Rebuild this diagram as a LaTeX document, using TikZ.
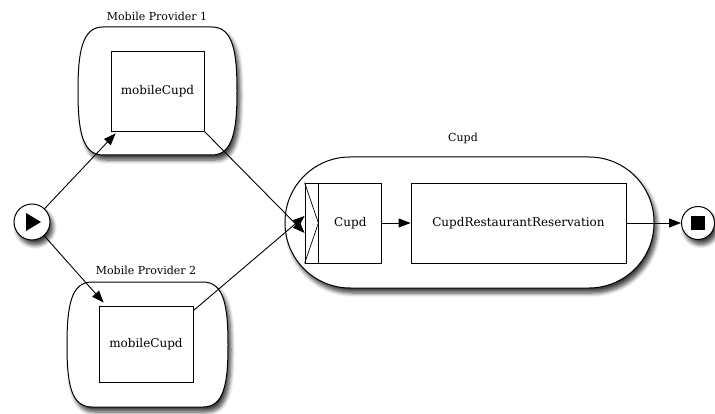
\documentclass[tikz,border=0pt]{standalone}
\usepackage{fontspec}
\setmainfont{DejaVu Serif}
\usetikzlibrary{arrows.meta,shadows.blur,calc}
\begin{document}
\begin{tikzpicture}[x=1pt,y=-1pt,
  shad/.style={blur shadow={shadow blur steps=6,shadow xshift=3pt,shadow yshift=-5pt,shadow opacity=75,shadow blur radius=4pt}},
  pool/.style={draw,line width=1pt,fill=white,shad},
  task/.style={draw,line width=0.8pt,fill=white,inner sep=0pt,font=\fontsize{12}{14}\selectfont},
  lbl/.style={font=\fontsize{11}{13}\selectfont,inner sep=0pt},
  flow/.style={line width=0.9pt,-{Triangle[length=12pt,width=9pt,fill=black]}},
  ev/.style={circle,draw,line width=1pt,fill=white,shad,inner sep=0pt}]
\useasboundingbox (0,0) rectangle (715,414);
% pools
\path[pool] (103,27) -- (212,27) .. controls (233,27) and (237,52) .. (237,91) .. controls (237,130) and (233,155) .. (212,155) -- (103,155) .. controls (82,155) and (78,130) .. (78,91) .. controls (78,52) and (82,27) .. (103,27) -- cycle;
\node[lbl] (mp1lbl) at (157,16) {Mobile Provider 1};
\path[pool] (92,282) -- (203,282) .. controls (224,282) and (228,306) .. (228,345) .. controls (228,384) and (224,407) .. (203,407) -- (92,407) .. controls (71,407) and (67,384) .. (67,345) .. controls (67,306) and (71,282) .. (92,282) -- cycle;
\node[lbl] (mp2lbl) at (146,270) {Mobile Provider 2};
\path[pool,rounded corners=65pt] (285,157) rectangle (654,288);
\node[lbl] (cupdlbl) at (463,138) {Cupd};
% tasks
\node[task,minimum width=93pt,minimum height=80pt] (mp1box) at (157.5,91) {mobileCupd};
\node[task,minimum width=94pt,minimum height=76pt] (mp2box) at (146,344) {mobileCupd};
\node[draw,line width=0.8pt,fill=white,minimum width=13pt,minimum height=80pt,inner sep=0pt] (marker) at (311.5,223) {};
\draw[line width=0.7pt] (marker.north west) -- (marker.east) -- (marker.south west);
\node[task,minimum width=63pt,minimum height=80pt,anchor=west] (cupd) at (marker.east) {Cupd};
\node[task,minimum width=215pt,minimum height=80pt] (crr) at (518.5,223) {CupdRestaurantReservation};
% events
\node[ev,minimum size=36pt] (start) at (32,222) {};
\fill (start.center) ++(-6,-9) -- ++(0,18) -- ++(15,-9) -- cycle;
\node[ev,minimum size=33pt] (end) at (698,223) {};
\fill ($(end.center)+(-7,-7)$) rectangle ($(end.center)+(7,7)$);
% flows
\draw[flow] (start) -- ([shift={(5,2)}]mp1box.south west);
\draw[flow] (start) -- ([shift={(5,-3)}]mp2box.north west);
\draw[flow] (mp1box.south east) -- ([yshift=-10pt]marker.west);
\draw[flow] ([yshift=-5pt]mp2box.north east) -- ([yshift=7pt]marker.west);
\draw[flow] (cupd) -- (crr);
\draw[flow] (crr) -- (end);
\end{tikzpicture}
\end{document}
